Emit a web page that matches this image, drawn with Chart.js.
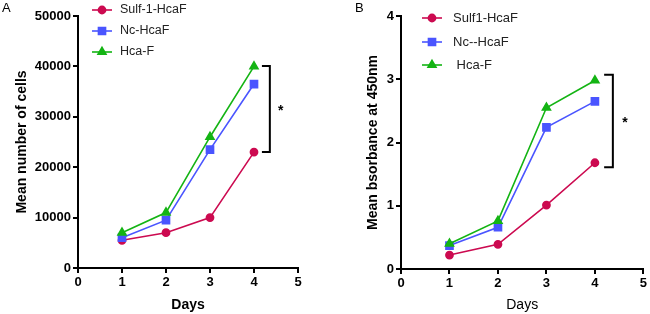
<!DOCTYPE html>
<html lang="en">
  <head>
    <meta charset="UTF-8" />
    <title>Cell growth</title>
    <script src="https://cdn.jsdelivr.net/npm/chart.js@4.4.0/dist/chart.umd.min.js"></script>
    <style>
      html, body { margin: 0; padding: 0; background: #fff; }
      .wrap { position: relative; width: 650px; height: 314px; }
      #boxA { position: absolute; left: 0; top: 0; width: 330px; height: 314px; }
      #boxB { position: absolute; left: 330px; top: 0; width: 320px; height: 314px; }
      .panel { position: absolute; top: 0; font: 13px Arial, "Liberation Sans", sans-serif; }
    </style>
  </head>
  <body>
    <div class="wrap">
      <div id="boxA"><canvas id="chartA" width="330" height="314"></canvas></div>
      <div id="boxB"><canvas id="chartB" width="320" height="314"></canvas></div>
      <div class="panel" style="left:2px">A</div>
      <div class="panel" style="left:355px">B</div>
    </div>

    <script>
      //data
      const days = [1, 2, 3, 4];
      const xTicks = [0, 1, 2, 3, 4, 5];

      const cellsSulf = [5500, 7000, 10000, 23000];
      const cellsNc = [6000, 9500, 23500, 36500];
      const cellsHca = [7000, 11000, 26000, 40000];

      const absSulf = [0.22, 0.39, 1.01, 1.68];
      const absNc = [0.37, 0.66, 2.24, 2.65];
      const absHca = [0.40, 0.76, 2.55, 2.98];

      const labelsA = ['Sulf-1-HcaF', 'Nc-HcaF', 'Hca-F'];
      const labelsB = ['Sulf1-HcaF', 'Nc--HcaF', ' Hca-F'];

      const RED = '#cc0a50';
      const BLUE = '#4a55ff';
      const GREEN = '#14b414';
      const FONT = 'Arial, "Liberation Sans", sans-serif';

      const toPoints = (vals) => vals.map((v, i) => ({ x: days[i], y: v }));

      function makeSets(labels, a, b, c) {
        const styles = [
          { color: RED, pointStyle: 'circle', radius: 3.6 },
          { color: BLUE, pointStyle: 'rect', radius: 5 },
          { color: GREEN, pointStyle: 'triangle', radius: 4.6 }
        ];
        return [a, b, c].map((vals, i) => ({
          label: labels[i],
          data: toPoints(vals),
          borderColor: styles[i].color,
          backgroundColor: styles[i].color,
          pointStyle: styles[i].pointStyle,
          pointRadius: styles[i].radius,
          borderWidth: 1.6,
          tension: 0
        })).reverse();
      }

      // legend with line + marker, drawn inside plot area
      const lineLegend = {
        id: 'lineLegend',
        afterDraw(chart, args, opts) {
          const ctx = chart.ctx;
          const sets = chart.data.datasets.slice().reverse();
          ctx.save();
          ctx.font = opts.size + 'px ' + FONT;
          ctx.textBaseline = 'middle';
          sets.forEach((ds, i) => {
            const y = opts.rows[i];
            ctx.strokeStyle = ds.borderColor;
            ctx.lineWidth = 1.6;
            ctx.beginPath();
            ctx.moveTo(opts.x0, y);
            ctx.lineTo(opts.x1, y);
            ctx.stroke();
            Chart.helpers.drawPoint(ctx, {
              pointStyle: ds.pointStyle,
              radius: ds.pointRadius,
              rotation: 0,
              borderWidth: 1
            }, (opts.x0 + opts.x1) / 2, y);
            ctx.fillStyle = ds.backgroundColor;
            ctx.fill();
            ctx.fillStyle = '#222';
            ctx.fillText(ds.label, opts.tx, y);
          });
          ctx.restore();
        }
      };

      // significance bracket and star
      const bracket = {
        id: 'bracket',
        afterDraw(chart, args, opts) {
          const ctx = chart.ctx;
          const xs = chart.scales.x, ys = chart.scales.y;
          const x = xs.getPixelForValue(opts.x);
          const xl = xs.getPixelForValue(opts.x - 0.18);
          const yt = ys.getPixelForValue(opts.top);
          const yb = ys.getPixelForValue(opts.bottom);
          ctx.save();
          ctx.strokeStyle = '#000';
          ctx.lineWidth = 2;
          ctx.beginPath();
          ctx.moveTo(xl, yt);
          ctx.lineTo(x, yt);
          ctx.lineTo(x, yb);
          ctx.lineTo(xl, yb);
          ctx.stroke();
          ctx.fillStyle = '#000';
          ctx.font = 'bold 14px ' + FONT;
          ctx.textAlign = 'center';
          ctx.textBaseline = 'middle';
          ctx.fillText('*', xs.getPixelForValue(opts.x + 0.25), (yt + yb) / 2 + 2);
          ctx.restore();
        }
      };

      function axis(min, max, step, title, titleWeight, size, titlePad) {
        return {
          type: 'linear',
          min: min,
          max: max,
          afterBuildTicks: (scale) => {
            if (step === null) scale.ticks = xTicks.map((v) => ({ value: v }));
          },
          ticks: {
            stepSize: step || 1,
            color: '#000',
            font: { family: FONT, size: 13, weight: 'bold' },
            padding: 2,
            callback: (v) => String(v)
          },
          grid: {
            drawOnChartArea: false,
            drawTicks: true,
            tickLength: 5,
            color: '#000',
            lineWidth: 2
          },
          border: { display: true, color: '#000', width: 2 },
          title: {
            display: true,
            text: title,
            color: '#000',
            font: { family: FONT, size: 14, weight: titleWeight },
            padding: titlePad
          },
          afterFit: (scale) => {
            if (scale.isHorizontal()) scale.height = size;
            else scale.width = size;
          }
        };
      }

      function config(sets, yMax, yStep, yTitle, yWidth, yTitlePad, xHeight, xWeight, pad, legendOpts, bracketOpts) {
        return {
          type: 'line',
          data: { datasets: sets },
          options: {
            responsive: false,
            animation: false,
            layout: { padding: pad },
            scales: {
              x: axis(0, 5, null, 'Days', xWeight, xHeight, { top: 4, bottom: 0 }),
              y: axis(0, yMax, yStep, yTitle, 'bold', yWidth, yTitlePad)
            },
            plugins: {
              legend: { display: false },
              tooltip: { enabled: false },
              lineLegend: legendOpts,
              bracket: bracketOpts
            }
          },
          plugins: [lineLegend, bracket]
        };
      }

      //init
      new Chart(document.getElementById('chartA'), config(
        makeSets(labelsA, cellsSulf, cellsNc, cellsHca),
        50000, 10000, 'Mean number of cells', 78, { top: 14, bottom: 0 }, 46, 'bold',
        { top: 16, right: 32, left: 0, bottom: 0 },
        { x0: 92, x1: 112, tx: 120, rows: [10, 31, 52], size: 12.5 },
        { x: 4.36, top: 40100, bottom: 23000 }
      ));

      new Chart(document.getElementById('chartB'), config(
        makeSets(labelsB, absSulf, absNc, absHca),
        4, 1, 'Mean bsorbance at 450nm', 71, { top: 35, bottom: 0 }, 45, 'normal',
        { top: 16, right: 4, left: 0, bottom: 0 },
        { x0: 92, x1: 112, tx: 123, rows: [18, 42, 65], size: 13 },
        { x: 4.37, top: 3.07, bottom: 1.61 }
      ));
    </script>
  </body>
</html>
